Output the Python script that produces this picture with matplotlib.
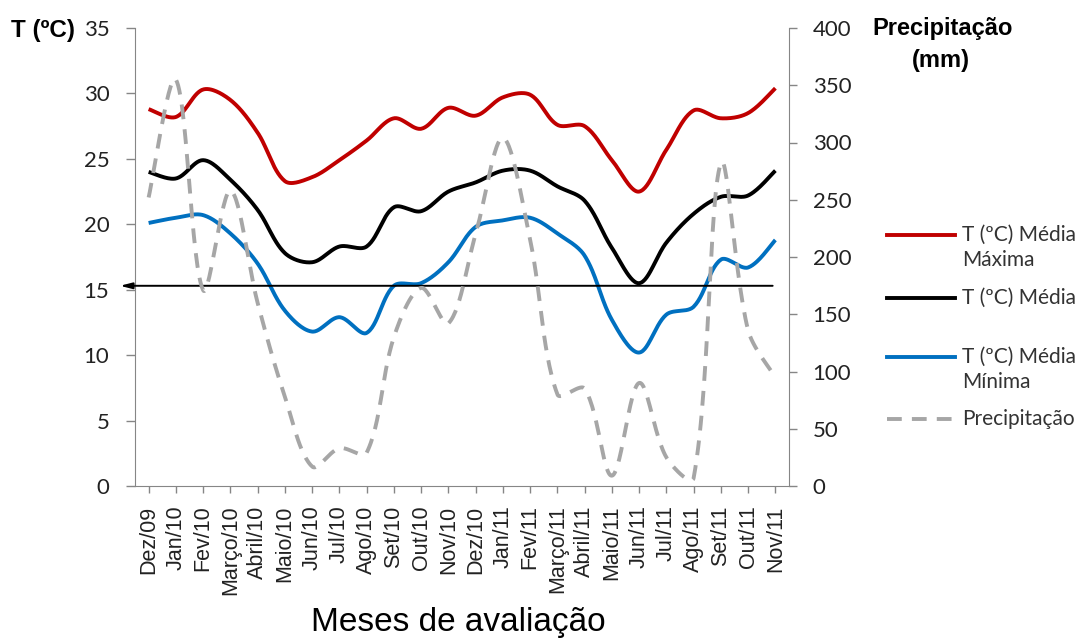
import numpy as np
import matplotlib
matplotlib.use("Agg")
import matplotlib.pyplot as plt
from matplotlib.lines import Line2D

# meses de avaliação e médias mensais
meses = ["Dez/09", "Jan/10", "Fev/10", "Março/10", "Abril/10", "Maio/10", "Jun/10",
         "Jul/10", "Ago/10", "Set/10", "Out/10", "Nov/10", "Dez/10", "Jan/11",
         "Fev/11", "Março/11", "Abril/11", "Maio/11", "Jun/11", "Jul/11", "Ago/11",
         "Set/11", "Out/11", "Nov/11"]
t_max = [28.8, 28.2, 30.3, 29.5, 27.0, 23.3, 23.6, 24.9, 26.4, 28.1, 27.3, 28.9,
         28.3, 29.7, 29.9, 27.6, 27.5, 24.9, 22.5, 25.7, 28.7, 28.1, 28.5, 30.4]
t_media = [24.0, 23.5, 24.9, 23.4, 21.1, 17.8, 17.1, 18.3, 18.3, 21.3, 21.0, 22.5,
           23.2, 24.1, 24.1, 22.9, 21.8, 18.2, 15.5, 18.6, 20.8, 22.1, 22.2, 24.1]
t_min = [20.1, 20.5, 20.7, 19.3, 17.0, 13.4, 11.8, 12.9, 11.7, 15.3, 15.5, 17.1,
         19.8, 20.3, 20.5, 19.3, 17.6, 12.7, 10.2, 13.1, 13.7, 17.3, 16.7, 18.8]
precip = [252, 355, 171, 258, 160, 78, 17, 33, 29, 130, 173, 142,
          220, 304, 215, 80, 85, 9, 90, 25, 7, 282, 136, 95]
limite = 15.3

W, H = 1086, 639
PX_X = 27.25  # pixels por mês


def suaviza(y, px_y, n=30):
    # bezier pelos pontos, tangentes ponderadas pelo comprimento dos segmentos
    # (calculado em pixels para evitar ondulações exageradas)
    pts = np.column_stack([np.arange(len(y)) * PX_X, np.asarray(y, float) * px_y])
    p = np.vstack([pts[0], pts, pts[-1]])
    t = np.linspace(0, 1, n)[:, None]
    segs = []
    for i in range(len(pts) - 1):
        p0, p1, p2, p3 = p[i], p[i + 1], p[i + 2], p[i + 3]
        d01 = np.hypot(*(p1 - p0))
        d12 = np.hypot(*(p2 - p1))
        d23 = np.hypot(*(p3 - p2))
        f1 = d12 / (d01 + d12) / 3 if d01 > 0 else 1 / 6
        f2 = d12 / (d12 + d23) / 3 if d23 > 0 else 1 / 6
        c1 = p1 + (p2 - p0) * f1
        c2 = p2 - (p3 - p1) * f2
        seg = (1 - t)**3 * p1 + 3 * (1 - t)**2 * t * c1 + 3 * (1 - t) * t**2 * c2 + t**3 * p2
        segs.append(seg if i == 0 else seg[1:])
    c = np.vstack(segs)
    return c[:, 0] / PX_X, c[:, 1] / px_y


fig = plt.figure(figsize=(W / 100, H / 100), dpi=100)
ax = fig.add_axes([135 / W, 1 - 486 / H, (789 - 135) / W, (486 - 28) / H])
ax2 = ax.twinx()

cinza = "#868686"
x = np.arange(len(meses))
px_t = 458 / 35
px_p = 458 / 400

for serie, cor in [(t_max, "#C00000"), (t_media, "black"), (t_min, "#0070C0")]:
    xs, ys = suaviza(serie, px_t)
    ax.plot(xs, ys, color=cor, lw=2.8, solid_capstyle="butt")

xs, ys = suaviza(precip, px_p)
ax2.plot(xs, ys, color="#A6A6A6", lw=2.8, dashes=(3.8, 2.6))

# seta na temperatura limite
ax.annotate("", xy=(-1.05, limite), xytext=(22.9, limite),
            arrowprops=dict(arrowstyle="-|>,head_length=0.7,head_width=0.18",
                            color="black", lw=1.4, shrinkA=0, shrinkB=0),
            annotation_clip=False)

ax.set_xlim(-0.5, 23.5)
ax.set_ylim(0, 35)
ax.set_yticks(range(0, 36, 5))
ax2.set_ylim(0, 400)
ax2.set_yticks(range(0, 401, 50))
ax.set_xticks(x)
ax.set_xticklabels(meses, rotation=90, family="Liberation Sans", fontsize=15.5)

for a in (ax, ax2):
    a.spines["top"].set_visible(False)
    for s in ("left", "right", "bottom"):
        a.spines[s].set_color(cinza)
    a.tick_params(colors=cinza, labelcolor="#222222", width=1)
ax.spines["right"].set_visible(False)
ax2.spines["left"].set_visible(False)
ax2.spines["bottom"].set_visible(False)
for lab in ax.get_yticklabels() + ax2.get_yticklabels():
    lab.set_family("Lato")
    lab.set_fontsize(16)
ax.tick_params(axis="y", length=6.5, pad=12)
ax2.tick_params(axis="y", length=6, pad=11)
ax.tick_params(axis="x", length=5, pad=9)

# títulos dos eixos
fig.text(11 / W, 1 - 31 / H, "T (ºC)", family="Liberation Sans", weight="bold",
         fontsize=17.5, ha="left", va="center")
fig.text(943 / W, 1 - 28 / H, "Precipitação", family="Liberation Sans",
         weight="bold", fontsize=17, ha="center", va="center")
fig.text(941 / W, 1 - 60 / H, "(mm)", family="Liberation Sans", weight="bold",
         fontsize=17, ha="center", va="center")
fig.text(458 / W, 1 - 622 / H, "Meses de avaliação", family="Liberation Sans",
         fontsize=24, ha="center", va="center")

# legenda
itens = [("#C00000", "-", 235, "T (ºC) Média", "Máxima"),
         ("black", "-", 298, "T (ºC) Média", None),
         ("#0070C0", "-", 357, "T (ºC) Média", "Mínima"),
         ("#A6A6A6", "--", 419, "Precipitação", None)]
for cor, estilo, yy, l1, l2 in itens:
    ln = Line2D([887 / W, 955 / W], [1 - yy / H, 1 - yy / H], color=cor, lw=2.8,
                transform=fig.transFigure)
    if estilo == "--":
        ln.set_dashes((3.8, 2.6))
    fig.add_artist(ln)
    fig.text(962 / W, 1 - yy / H, l1, family="Lato", fontsize=15, color="#333333",
             ha="left", va="center")
    if l2:
        fig.text(962 / W, 1 - (yy + 25) / H, l2, family="Lato", fontsize=15,
                 color="#333333", ha="left", va="center")

fig.savefig("out.png", dpi=100)
